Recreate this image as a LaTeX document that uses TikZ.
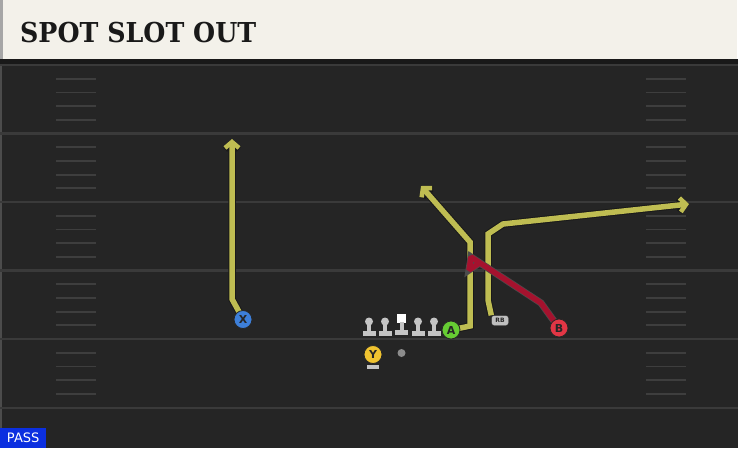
\documentclass[tikz,border=0pt]{standalone}
\usepackage{fontspec}
\setmainfont{DejaVu Sans}
\newfontfamily\titlefont{DejaVu Serif}
\usetikzlibrary{arrows.meta}
\definecolor{headbg}{HTML}{F3F1EA}
\definecolor{fieldbg}{HTML}{252525}
\definecolor{yardline}{HTML}{3A3A3A}
\definecolor{hashline}{HTML}{3E3E3E}
\definecolor{routeyellow}{HTML}{BFBD52}
\definecolor{routered}{HTML}{A5122E}
\definecolor{xblue}{HTML}{3D7FD9}
\definecolor{agreen}{HTML}{66CC33}
\definecolor{bred}{HTML}{E23645}
\definecolor{yyellow}{HTML}{F0C330}
\definecolor{linegray}{HTML}{C4C4C4}
\definecolor{passblue}{HTML}{0B2FE0}

\begin{document}
\begin{tikzpicture}[x=1pt,y=-1pt]
      \tikzstyle{player} = [circle, draw=black!85, line width=0.8pt, minimum size=18pt, inner sep=0pt, font=\bfseries\fontsize{11}{11}\selectfont, text=black!85]
      \tikzstyle{lineman} = [circle, fill=linegray, minimum size=8pt, inner sep=0pt]
      \tikzstyle{route} = [preaction={draw=black!90, line width=7.5pt}, draw=routeyellow, line width=5.5pt, line join=miter]
      \tikzstyle{routearrow} = [preaction={draw=black!90, line width=7.5pt, -{Straight Barb[length=6pt,width=14pt,line width=6.5pt]}}, draw=routeyellow, line width=5.5pt, line join=miter, -{Straight Barb[length=6pt,width=14pt,line width=4.5pt]}]
      \tikzstyle{block} = [preaction={draw=black!70, line width=7pt}, draw=routered, line width=5.5pt, line join=bevel]
      \useasboundingbox (0,0) rectangle (738,448);
      % field
      \fill[fieldbg] (0,59) rectangle (738,448);
      \fill[black!90] (0,59) rectangle (738,64);
      \fill[black!70] (0,64) rectangle (2,448);
      \foreach \yl in {65,133.5,202,270.5,339,408}
        \draw[yardline, line width=2.5pt] (0,\yl) -- (738,\yl);
      \foreach \yl in {65,133.5,202,270.5,339}
        \foreach \k in {1,...,4} {
          \draw[hashline, line width=1.8pt] (56,\yl+\k*13.7) -- (96,\yl+\k*13.7);
          \draw[hashline, line width=1.8pt] (646,\yl+\k*13.7) -- (686,\yl+\k*13.7);
        }
      % header
      \fill[headbg] (3,0) rectangle (737,59);
      \fill[black!35] (0,0) rectangle (3,59);
      \node (title) [anchor=base west, inner sep=0pt, text=black!90, font=\titlefont\bfseries\fontsize{27.4}{28}\selectfont] at (20,42) {\scalebox{0.925}[1]{SPOT SLOT OUT}};
      % offensive line
      \foreach \x/\n in {369/lt,385/lg,418/rg,434/rt} {
        \node (\n) [lineman] at (\x,321.5) {};
        \fill[linegray] (\x-2,323) rectangle (\x+2,332);
        \fill[linegray] (\x-6.5,331) rectangle (\x+6.5,335.5);
      }
      \node (c) [fill=white, minimum size=9pt, inner sep=0pt] at (401.5,318.5) {};
      \fill[linegray] (399.5,322) rectangle (403.5,331);
      \fill[linegray] (395,330) rectangle (408,334.5);
      % backs
      \fill[linegray] (367,365) rectangle (379,369);
      \node (y) [player, fill=yyellow] at (373,354.5) {Y};
      \node (qb) [circle, fill=black!45, minimum size=8pt, inner sep=0pt] at (401.5,353) {};
      \node (rb) [rounded corners=2.5pt, draw=black!85, fill=black!25, inner sep=0pt, minimum width=17pt, minimum height=10pt, font=\bfseries\fontsize{6}{6}\selectfont, text=black!85] at (500,320.5) {RB};
      % routes
      \coordinate (xbend) at (232,299);
      \coordinate (xend) at (232,139);
      \coordinate (abase) at (470,326);
      \coordinate (abend) at (470,242);
      \coordinate (aend) at (421,186);
      \coordinate (rbbend) at (488,300);
      \coordinate (rbup) at (488,234);
      \coordinate (rbturn) at (503,224);
      \coordinate (rbend) at (689,204);
      \coordinate (bbend) at (541,303);
      \coordinate (bblock) at (471,257);
      \coordinate (bhook) at (469,270);
      \coordinate (bhookend) at (478,264);
      \draw [routearrow] (243,319)--(xbend)--(xend);
      \draw [routearrow] (451,330)--(abase)--(abend)--(aend);
      \draw [routearrow] (rb.north west)--(rbbend)--(rbup)--(rbturn)--(rbend);
      \draw [block] (559,328)--(bbend)--(bblock)--(bhook)--(bhookend);
      % receivers
      \node (x) [player, fill=xblue] at (243,319.5) {X};
      \node (a) [player, fill=agreen] at (451,330) {A};
      \node (b) [player, fill=bred] at (559,328) {B};
      % play type
      \node (pass) [anchor=south west, fill=passblue, text=white, minimum width=46pt, minimum height=20pt, inner sep=0pt, font=\fontsize{13}{13}\selectfont] at (0,448) {PASS};
\end{tikzpicture}
\end{document}
